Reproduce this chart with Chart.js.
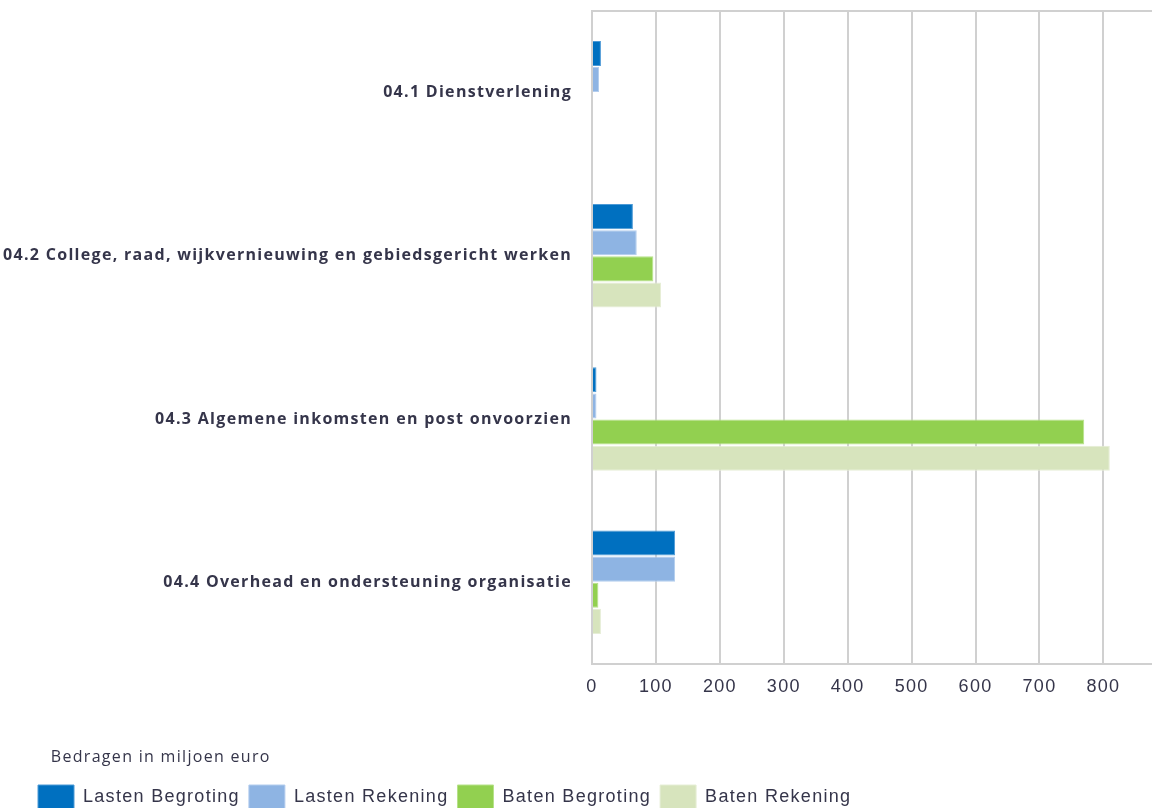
<!DOCTYPE html>
<html>
<head>
<meta charset="utf-8">
<script src="https://cdn.jsdelivr.net/npm/chart.js@4"></script>
<style>
  html, body { margin: 0; padding: 0; background: #fff; overflow: hidden; }
  #wrap { width: 1152px; height: 808px; overflow: hidden; }
</style>
</head>
<body>
<div id="wrap"><canvas id="programmaChart" width="1152" height="820"></canvas></div>
<script>
const categories = [
    '04.1 Dienstverlening',
    '04.2 College, raad, wijkvernieuwing en gebiedsgericht werken',
    '04.3 Algemene inkomsten en post onvoorzien',
    '04.4 Overhead en ondersteuning organisatie'
];
const lastenBegroting = [14, 64, 7, 130];
const lastenRekening = [11, 70, 7, 130];
const batenBegroting = [0, 96, 770, 10];
const batenRekening = [0, 108, 810, 14];
const xTicks = [0, 100, 200, 300, 400, 500, 600, 700, 800];

const textColor = '#35354a';
const gridColor = '#d0d0d0';

// wat extra letterafstand, zoals in het origineel
const spacing = {
    id: 'spacing',
    beforeLayout(chart) { chart.ctx.letterSpacing = '1.3px'; },
    afterLayout(chart) {
        // legenda iets naar rechts, los van de y-as
        chart.legend.left += 29;
        chart.legend.right += 29;
    },
    beforeDraw(chart) { chart.ctx.letterSpacing = '1.3px'; }
};

// bovenrand van het plotvlak
const topBorder = {
    id: 'topBorder',
    afterDraw(chart) {
        const a = chart.chartArea;
        const c = chart.ctx;
        c.save();
        c.strokeStyle = gridColor;
        c.lineWidth = 2;
        c.beginPath();
        c.moveTo(a.left, a.top);
        c.lineTo(a.right, a.top);
        c.stroke();
        c.restore();
    }
};

const ctx = document.getElementById('programmaChart').getContext('2d');
const programmaChart = new Chart(ctx, {
    type: 'bar',
    data: {
        labels: categories,
        datasets: [{
            label: 'Lasten Begroting',
            data: lastenBegroting,
            backgroundColor: '#0070c0',
            borderColor: '#4d9ad6'
        }, {
            label: 'Lasten Rekening',
            data: lastenRekening,
            backgroundColor: '#8eb4e3',
            borderColor: '#b3cdee'
        }, {
            label: 'Baten Begroting',
            data: batenBegroting,
            backgroundColor: '#92d050',
            borderColor: '#b7e28a'
        }, {
            label: 'Baten Rekening',
            data: batenRekening,
            backgroundColor: '#d7e4bd',
            borderColor: '#e6eed6'
        }]
    },
    options: {
        indexAxis: 'y',
        responsive: false,
        animation: false,
        layout: { padding: { top: 11, right: 0, left: 0, bottom: 0 } },
        datasets: {
            bar: {
                categoryPercentage: 0.64,
                barPercentage: 0.96,
                borderWidth: 1
            }
        },
        scales: {
            x: {
                min: 0,
                max: 876,
                afterBuildTicks: axis => {
                    axis.ticks = xTicks.map(v => ({ value: v }));
                },
                afterFit: axis => { axis.height = 80; },
                grid: { color: gridColor, lineWidth: 2, drawTicks: false },
                border: { color: gridColor, width: 2 },
                ticks: {
                    color: textColor,
                    padding: 12,
                    font: { family: 'Liberation Sans', size: 18 }
                }
            },
            y: {
                afterFit: axis => {
                    axis.width = 592;
                    axis.paddingTop = 0;
                    axis.paddingBottom = 0;
                },
                grid: { display: false },
                border: { color: gridColor, width: 2 },
                ticks: {
                    color: textColor,
                    padding: 12,
                    font: { family: 'Open Sans', size: 16, weight: 'bold' }
                }
            }
        },
        plugins: {
            legend: {
                position: 'bottom',
                align: 'start',
                title: {
                    display: true,
                    text: '    Bedragen in miljoen euro',
                    position: 'start',
                    color: textColor,
                    padding: { top: 6, bottom: 7 },
                    font: { family: 'Open Sans', size: 16 }
                },
                labels: {
                    boxWidth: 36,
                    boxHeight: 25,
                    padding: 9,
                    color: textColor,
                    font: { family: 'Liberation Sans', size: 18 }
                }
            },
            tooltip: { enabled: true }
        }
    },
    plugins: [spacing, topBorder]
});
</script>
</body>
</html>
